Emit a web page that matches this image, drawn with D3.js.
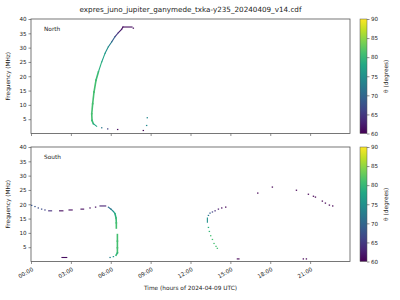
<!DOCTYPE html>
<html>
<head>
<meta charset="utf-8">
<script src="https://cdn.jsdelivr.net/npm/d3@7"></script>
<style>
  body { margin: 0; background: #fff; }
  text { font-family: "DejaVu Sans", sans-serif; fill: #222; }
</style>
</head>
<body>
<div id="chart"></div>
<script>
// values: time in hours, frequency in MHz, theta in degrees
// track: 0 = lone dot, other ids = points joined into one stroke
var northTime  = [7.7, 7.6, 6.92, 6.82, 6.57, 6.32, 6.07, 5.82, 5.57, 5.32, 5.07, 4.89, 4.74, 4.64, 4.57, 4.59, 4.69, 4.94, 5.32, 5.77, 6.52, 8.45, 8.7, 8.75];
var northFreq  = [36.8, 37.2, 37.2, 36.4, 35.2, 33.8, 32.0, 30.3, 28.0, 25.0, 21.5, 18.6, 14.5, 10.4, 6.9, 4.6, 3.4, 2.5, 2.0, 1.6, 1.4, 1.05, 2.8, 5.5];
var northTheta = [61, 61, 61, 61, 63, 67, 71, 74, 76, 78, 80, 81, 81, 81, 81, 81, 80, 76, 72, 66, 61, 60, 74, 74];
var northTrack = [0, 1, 1, 1, 1, 1, 1, 1, 1, 1, 1, 1, 1, 1, 1, 1, 1, 1, 0, 0, 0, 0, 0, 0];

var southTime  = [0.05, 0.3, 0.55, 0.8, 1.05, 1.33, 1.55, 2.15, 2.4, 2.86, 3.1, 3.76, 3.96, 4.44, 4.86, 5.19, 5.62,
                  5.82, 6.02, 6.2, 6.32, 6.4, 6.42, 6.42, 6.5, 6.5, 6.5, 6.5, 6.4, 6.2, 5.95, 2.33, 2.69,
                  14.65, 14.35, 14.1, 13.85, 13.65, 13.47, 13.35, 13.27, 13.27, 13.35, 13.42, 13.52, 13.65, 13.77, 13.92, 14.02,
                  15.52, 15.65, 17.06, 18.16, 19.97, 20.87, 21.25, 21.4, 21.92, 22.15, 22.45, 22.7, 20.49, 20.72];
var southFreq  = [19.6, 19.2, 18.7, 18.3, 18.0, 17.7, 17.7, 17.7, 17.7, 18.0, 18.0, 18.3, 18.3, 18.7, 19.0, 19.4, 19.4,
                  19.0, 18.3, 17.5, 16.7, 15.2, 13.5, 11.7, 9.4, 7.1, 4.8, 3.0, 2.2, 1.7, 1.4, 1.4, 1.4,
                  19.0, 18.7, 18.3, 17.7, 17.3, 16.9, 16.1, 15.2, 13.7, 11.9, 10.5, 9.0, 7.7, 6.3, 5.3, 4.6,
                  0.9, 0.9, 23.9, 26.0, 24.9, 23.5, 22.8, 22.5, 21.1, 20.4, 19.7, 19.4, 0.9, 0.9];
var southTheta = [68, 68, 67, 67, 66, 64, 64, 61, 61, 61, 61, 61, 61, 61, 61, 63, 63,
                  70, 72, 75, 78, 80, 81, 81, 81, 81, 81, 81, 79, 76, 73, 61, 61,
                  60, 61, 62, 64, 66, 69, 72, 74, 76, 79, 80, 81, 81, 81, 81, 81,
                  60, 60, 60, 60, 60, 60, 60, 60, 60, 60, 60, 60, 60, 60];
var southTrack = [0, 0, 0, 0, 0, 6, 6, 7, 7, 8, 8, 9, 9, 0, 0, 12, 12,
                  13, 13, 13, 13, 13, 13, 13, 14, 14, 14, 14, 14, 0, 0, 17, 17,
                  0, 0, 0, 0, 0, 0, 0, 18, 18, 0, 0, 0, 0, 0, 0, 0,
                  19, 19, 0, 0, 0, 0, 0, 0, 0, 0, 0, 0, 0, 0];

var freqTicks = [5, 10, 15, 20, 25, 30, 35, 40];
var hourTicks = [0, 3, 6, 9, 12, 15, 18, 21];
var thetaTicks = [60, 65, 70, 75, 80, 85, 90];
var panelNames = ['North', 'South'];
var title = 'expres_juno_jupiter_ganymede_txka-y235_20240409_v14.cdf';

var width = 400, height = 300;
var left = 31, right = 350;
var panelTops = [19, 147], panelH = 114.5;

var svg = d3.select('#chart').append('svg')
  .attr('width', width).attr('height', height);

var x = d3.scaleLinear().domain([0, 24]).range([left, right]);
var color = d3.scaleSequential(d3.interpolateViridis).domain([60, 90]);

svg.append('text')
  .attr('x', (left + right) / 2).attr('y', 12)
  .attr('text-anchor', 'middle').attr('font-size', 7.2)
  .text(title);

// gradient for colour bars
var grad = svg.append('defs').append('linearGradient')
  .attr('id', 'viridis').attr('x1', 0).attr('y1', 1).attr('x2', 0).attr('y2', 0);
d3.range(0, 1.01, 0.1).forEach(function(t) {
  grad.append('stop').attr('offset', t).attr('stop-color', d3.interpolateViridis(t));
});

function pad(h) { return (h < 10 ? '0' : '') + h + ':00'; }

function drawPanel(i, times, freqs, thetas, tracks) {
  var top = panelTops[i];
  var y = d3.scaleLinear().domain([0, 40]).range([top + panelH, top]);
  var g = svg.append('g');

  // y axis
  var ya = g.append('g').attr('transform', 'translate(' + left + ',0)')
    .call(d3.axisLeft(y).tickValues(freqTicks).tickSize(2.5).tickPadding(2));
  ya.select('.domain').remove();
  ya.selectAll('text').attr('font-size', 5.6).style('font-family', 'DejaVu Sans');
  ya.selectAll('line').attr('stroke', '#444').attr('stroke-width', 0.6);

  // x axis
  var xa = g.append('g').attr('transform', 'translate(0,' + (top + panelH) + ')')
    .call(d3.axisBottom(x).tickValues(hourTicks).tickFormat(pad).tickSize(2.5).tickPadding(2));
  xa.select('.domain').remove();
  xa.selectAll('line').attr('stroke', '#444').attr('stroke-width', 0.6);
  if (i === 0) {
    xa.selectAll('text').remove();
  } else {
    xa.selectAll('text')
      .attr('font-size', 5.6).style('font-family', 'DejaVu Sans')
      .attr('text-anchor', 'end')
      .attr('dy', 0)
      .attr('transform', 'translate(0,5) rotate(-30)');
  }

  // frame
  g.append('rect')
    .attr('x', left).attr('y', top).attr('width', right - left).attr('height', panelH)
    .attr('fill', 'none').attr('stroke', '#555').attr('stroke-width', 0.8);

  g.append('text')
    .attr('x', 10).attr('y', top + panelH / 2)
    .attr('transform', 'rotate(-90,10,' + (top + panelH / 2) + ')')
    .attr('text-anchor', 'middle').attr('font-size', 5.8)
    .text('Frequency (MHz)');

  g.append('text')
    .attr('x', 44).attr('y', top + 12)
    .attr('font-size', 5.8)
    .text(panelNames[i]);

  // joined tracks
  for (var k = 1; k < times.length; k++) {
    if (tracks[k] !== 0 && tracks[k] === tracks[k - 1]) {
      var low = freqs[k] < 20 && freqs[k - 1] < 22 && thetas[k] > 78;
      g.append('line')
        .attr('x1', x(times[k - 1])).attr('y1', y(freqs[k - 1]))
        .attr('x2', x(times[k])).attr('y2', y(freqs[k]))
        .attr('stroke', color((thetas[k - 1] + thetas[k]) / 2))
        .attr('stroke-width', low ? 1.6 : 1.1)
        .attr('stroke-linecap', 'square');
    }
  }
  // lone dots
  times.forEach(function(t, k) {
    if (tracks[k] === 0) {
      g.append('rect')
        .attr('x', x(t) - 0.7).attr('y', y(freqs[k]) - 0.6)
        .attr('width', 1.4).attr('height', 1.2)
        .attr('fill', color(thetas[k]));
    }
  });

  // colour bar
  var cb = d3.scaleLinear().domain([60, 90]).range([top + panelH, top]);
  g.append('rect')
    .attr('x', 360).attr('y', top).attr('width', 7).attr('height', panelH)
    .attr('fill', 'url(#viridis)').attr('stroke', '#555').attr('stroke-width', 0.5);
  var ca = g.append('g').attr('transform', 'translate(367,0)')
    .call(d3.axisRight(cb).tickValues(thetaTicks).tickSize(2.5).tickPadding(1.5));
  ca.select('.domain').remove();
  ca.selectAll('text').attr('font-size', 5.6).style('font-family', 'DejaVu Sans');
  ca.selectAll('line').attr('stroke', '#444').attr('stroke-width', 0.6);
  g.append('text')
    .attr('x', 388).attr('y', top + panelH / 2)
    .attr('transform', 'rotate(-90,388,' + (top + panelH / 2) + ')')
    .attr('text-anchor', 'middle').attr('font-size', 5.8)
    .text('θ (degrees)');
}

drawPanel(0, northTime, northFreq, northTheta, northTrack);
drawPanel(1, southTime, southFreq, southTheta, southTrack);

svg.append('text')
  .attr('x', (left + right) / 2).attr('y', 290)
  .attr('text-anchor', 'middle').attr('font-size', 5.8)
  .text('Time (hours of 2024-04-09 UTC)');
</script>
</body>
</html>
